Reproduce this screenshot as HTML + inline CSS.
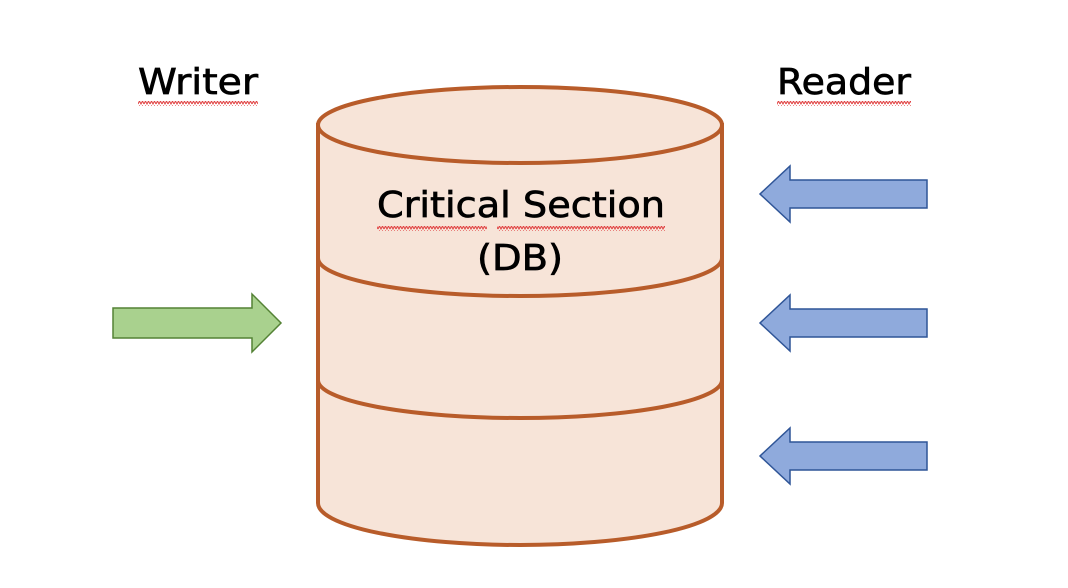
<!DOCTYPE html>
<html><head><meta charset="utf-8"><style>
html,body{margin:0;padding:0;background:#fff;width:1068px;height:588px;overflow:hidden}
svg{display:block}
text{font-family:"DejaVu Sans","Liberation Sans",sans-serif;fill:#000;stroke:#000;stroke-width:0.7}
</style></head><body>
<svg width="1068" height="588" viewBox="0 0 1068 588">
<defs>
<pattern id="wav" width="6" height="5" patternUnits="userSpaceOnUse">
<path d="M0 4 L1.5 1 L3 4 L4.5 1 L6 4" stroke="#e04040" stroke-width="1" fill="none"/>
</pattern>
</defs>
<path d="M318 125 L318 503 A202 42 0 0 0 722 503 L722 125 Z" fill="#F7E4D8" stroke="#B85C2A" stroke-width="4"/>
<path d="M318 258 A202 38 0 0 0 722 258" fill="none" stroke="#B85C2A" stroke-width="4"/>
<path d="M318 380 A202 38 0 0 0 722 380" fill="none" stroke="#B85C2A" stroke-width="4"/>
<ellipse cx="520" cy="125" rx="202" ry="38" fill="#F7E4D8" stroke="#B85C2A" stroke-width="4"/>
<text x="138" y="94" font-size="36" textLength="120" lengthAdjust="spacingAndGlyphs">Writer</text>
<rect x="138" y="101" width="120" height="5" fill="url(#wav)"/>
<text x="777" y="94" font-size="36" textLength="134" lengthAdjust="spacingAndGlyphs">Reader</text>
<rect x="777" y="101" width="134" height="5" fill="url(#wav)"/>
<text x="377" y="217" font-size="36" textLength="288" lengthAdjust="spacingAndGlyphs">Critical Section</text>
<rect x="377" y="226" width="110" height="5" fill="url(#wav)"/>
<rect x="497" y="226" width="168" height="5" fill="url(#wav)"/>
<text x="477" y="270" font-size="36" textLength="86" lengthAdjust="spacingAndGlyphs">(DB)</text>
<path d="M113 308 L252 308 L252 294 L281 323 L252 352 L252 338 L113 338 Z" fill="#A9D18E" stroke="#548235" stroke-width="1.5"/>
<path d="M927 180 L790 180 L790 166 L760 194 L790 222 L790 208 L927 208 Z" fill="#8FAADC" stroke="#2F5597" stroke-width="1.5"/>
<path d="M927 309 L790 309 L790 295 L760 323 L790 351 L790 337 L927 337 Z" fill="#8FAADC" stroke="#2F5597" stroke-width="1.5"/>
<path d="M927 442 L790 442 L790 428 L760 456 L790 484 L790 470 L927 470 Z" fill="#8FAADC" stroke="#2F5597" stroke-width="1.5"/>
</svg>
</body></html>
